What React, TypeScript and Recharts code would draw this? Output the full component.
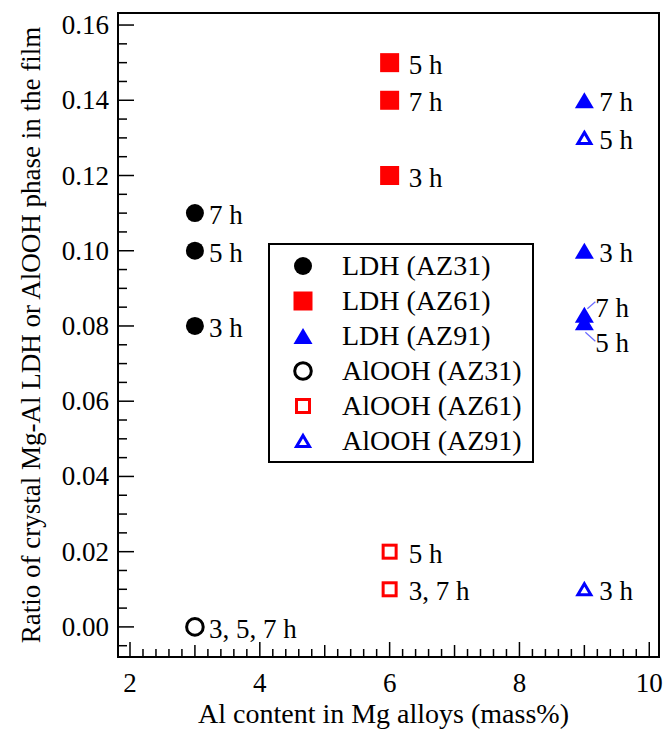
import React from "react";
import { ScatterChart, Scatter, XAxis, YAxis, ReferenceArea } from "recharts";

// Al content (mass%) vs. ratio of crystal phase, with immersion time labels
const LDH_AZ31 = [
  { al: 3, ratio: 0.11, label: "7 h" },
  { al: 3, ratio: 0.1, label: "5 h" },
  { al: 3, ratio: 0.08, label: "3 h" },
];
const LDH_AZ61 = [
  { al: 6, ratio: 0.15, label: "5 h" },
  { al: 6, ratio: 0.14, label: "7 h" },
  { al: 6, ratio: 0.12, label: "3 h" },
];
const LDH_AZ91 = [
  { al: 9, ratio: 0.14, label: "7 h" },
  { al: 9, ratio: 0.1, label: "3 h" },
  { al: 9, ratio: 0.083, label: "7 h" },
  { al: 9, ratio: 0.081, label: "5 h" },
];
const ALOOH_AZ31 = [{ al: 3, ratio: 0, label: "3, 5, 7 h" }];
const ALOOH_AZ61 = [
  { al: 6, ratio: 0.02, label: "5 h" },
  { al: 6, ratio: 0.01, label: "3, 7 h" },
];
const ALOOH_AZ91 = [
  { al: 9, ratio: 0.13, label: "5 h" },
  { al: 9, ratio: 0.01, label: "3 h" },
];

const X_DOMAIN: [number, number] = [1.815, 10.15];
const Y_DOMAIN: [number, number] = [-0.008, 0.1632];
// minor ticks every 0.2 on x, every 0.005 on y
const X_TICKS = Array.from({ length: 41 }, (_, i) => Math.round((2 + i * 0.2) * 10) / 10);
const Y_TICKS = Array.from({ length: 34 }, (_, i) => Math.round((i - 1) * 5) / 1000);

const FONT = "Liberation Serif, Times New Roman, Tinos, DejaVu Serif, serif";
const RED = "#ff0000";
const BLUE = "#0000ff";
const LEADER = "#6a6aff";

type Kind = "circle" | "square" | "triangle";

function Marker({ kind, filled, color, cx, cy }: { kind: Kind; filled: boolean; color: string; cx: number; cy: number }) {
  if (kind === "circle") {
    return filled ? (
      <circle cx={cx} cy={cy} r={9} fill={color} />
    ) : (
      <circle cx={cx} cy={cy} r={8.3} fill="none" stroke={color} strokeWidth={3} />
    );
  }
  if (kind === "square") {
    const s = filled ? 19 : 13;
    return (
      <rect
        x={cx - s / 2}
        y={cy - s / 2}
        width={s}
        height={s}
        fill={filled ? color : "none"}
        stroke={filled ? "none" : color}
        strokeWidth={3}
      />
    );
  }
  const w = filled ? 19 : 13;
  const h = filled ? 16 : 11;
  const d = `M${cx},${cy - h / 2} L${cx + w / 2},${cy + h / 2} L${cx - w / 2},${cy + h / 2} Z`;
  return filled ? (
    <path d={d} fill={color} />
  ) : (
    <path d={d} fill="none" stroke={color} strokeWidth={3} strokeLinejoin="miter" />
  );
}

const LABEL_GAP: Record<Kind, number> = { circle: 14, square: 19, triangle: 15 };

// the two overlapping AZ91 points get their labels pulled apart with leader lines
const NUDGE: Record<string, { dx: number; dy: number; line: [number, number, number, number] }> = {
  "9-0.083": { dx: -4, dy: -9, line: [3, -6, 11, -13] },
  "9-0.081": { dx: -4, dy: 19, line: [1, 10, 11, 19] },
};

function makeShape(kind: Kind, filled: boolean, color: string) {
  return (props: any) => {
    const { cx, cy, payload } = props;
    const nudge = NUDGE[`${payload.al}-${payload.ratio}`];
    const tx = cx + LABEL_GAP[kind] + (nudge ? nudge.dx : 0);
    const ty = cy + 11 + (nudge ? nudge.dy : 0);
    return (
      <g>
        {nudge && (
          <line
            x1={cx + nudge.line[0]}
            y1={cy + nudge.line[1]}
            x2={cx + nudge.line[2]}
            y2={cy + nudge.line[3]}
            stroke={LEADER}
            strokeWidth={1.2}
          />
        )}
        <Marker kind={kind} filled={filled} color={color} cx={cx} cy={cy} />
        <text x={tx} y={ty} fontFamily={FONT} fontSize={27} fill="#000">
          {payload.label}
        </text>
      </g>
    );
  };
}

function isNear(v: number, step: number) {
  return Math.abs(v / step - Math.round(v / step)) < 1e-6;
}

function XTick({ x, y, payload }: any) {
  const v = payload.value;
  const even = isNear(v, 2);
  const len = even ? 15 : isNear(v, 1) ? 12 : 8;
  return (
    <g>
      <line x1={x} y1={y} x2={x} y2={y - len} stroke="#000" strokeWidth={1.5} />
      {even && (
        <text x={x} y={y + 35} textAnchor="middle" fontFamily={FONT} fontSize={27} fill="#000">
          {v}
        </text>
      )}
    </g>
  );
}

function YTick({ x, y, payload }: any) {
  const v = payload.value;
  const major = isNear(v, 0.02);
  return (
    <g>
      <line x1={x} y1={y} x2={x + (major ? 16 : 9)} y2={y} stroke="#000" strokeWidth={1.5} />
      {major && (
        <text x={x - 9} y={y + 9} textAnchor="end" fontFamily={FONT} fontSize={27} fill="#000">
          {v.toFixed(2)}
        </text>
      )}
    </g>
  );
}

const SERIES = [
  { name: "LDH (AZ31)", data: LDH_AZ31, kind: "circle" as Kind, filled: true, color: "#000" },
  { name: "LDH (AZ61)", data: LDH_AZ61, kind: "square" as Kind, filled: true, color: RED },
  { name: "LDH (AZ91)", data: LDH_AZ91, kind: "triangle" as Kind, filled: true, color: BLUE },
  { name: "AlOOH (AZ31)", data: ALOOH_AZ31, kind: "circle" as Kind, filled: false, color: "#000" },
  { name: "AlOOH (AZ61)", data: ALOOH_AZ61, kind: "square" as Kind, filled: false, color: RED },
  { name: "AlOOH (AZ91)", data: ALOOH_AZ91, kind: "triangle" as Kind, filled: false, color: BLUE },
];

function LegendBox() {
  return (
    <div
      style={{
        position: "absolute",
        left: 268,
        top: 243,
        width: 266,
        height: 220,
        boxSizing: "border-box",
        border: "2px solid #000",
        background: "#fff",
        paddingTop: 3,
        fontFamily: FONT,
        fontSize: 28,
      }}
    >
      {SERIES.map((s) => (
        <div key={s.name} style={{ display: "flex", alignItems: "center", height: 35 }}>
          <svg width={24} height={24} style={{ marginLeft: 21 }}>
            <Marker kind={s.kind} filled={s.filled} color={s.color} cx={12} cy={12} />
          </svg>
          <span style={{ marginLeft: 27, lineHeight: "35px", whiteSpace: "nowrap" }}>{s.name}</span>
        </div>
      ))}
    </div>
  );
}

export default function App() {
  return (
    <div style={{ position: "absolute", left: 0, top: 0, width: 665, height: 729, background: "#fff" }}>
      <ScatterChart width={665} height={729} margin={{ top: 13, right: 6, bottom: 0, left: 0 }}>
        <XAxis
          type="number"
          dataKey="al"
          domain={X_DOMAIN}
          ticks={X_TICKS}
          interval={0}
          allowDataOverflow
          axisLine={false}
          tickLine={false}
          tickSize={0}
          tickMargin={0}
          height={72}
          tick={<XTick />}
          label={{
            content: ({ viewBox }: any) => (
              <text
                x={viewBox.x + viewBox.width / 2 - 5}
                y={viewBox.y + 66}
                textAnchor="middle"
                fontFamily={FONT}
                fontSize={28}
                fill="#000"
              >
                Al content in Mg alloys (mass%)
              </text>
            ),
          }}
        />
        <YAxis
          type="number"
          dataKey="ratio"
          domain={Y_DOMAIN}
          ticks={Y_TICKS}
          interval={0}
          allowDataOverflow
          axisLine={false}
          tickLine={false}
          tickSize={0}
          tickMargin={0}
          width={118}
          tick={<YTick />}
          label={{
            content: ({ viewBox }: any) => {
              const cx = 40;
              const cy = viewBox.y + viewBox.height / 2;
              return (
                <text
                  x={cx}
                  y={cy}
                  transform={`rotate(-90, ${cx}, ${cy})`}
                  textAnchor="middle"
                  fontFamily={FONT}
                  fontSize={27}
                  fill="#000"
                >
                  Ratio of crystal Mg-Al LDH or AlOOH phase in the film
                </text>
              );
            },
          }}
        />
        <ReferenceArea
          x1={X_DOMAIN[0]}
          x2={X_DOMAIN[1]}
          y1={Y_DOMAIN[0]}
          y2={Y_DOMAIN[1]}
          fill="none"
          fillOpacity={0}
          stroke="#000"
          strokeWidth={2}
          ifOverflow="visible"
        />
        {SERIES.map((s) => (
          <Scatter
            key={s.name}
            name={s.name}
            data={s.data}
            shape={makeShape(s.kind, s.filled, s.color)}
            isAnimationActive={false}
          />
        ))}
      </ScatterChart>
      <LegendBox />
    </div>
  );
}
